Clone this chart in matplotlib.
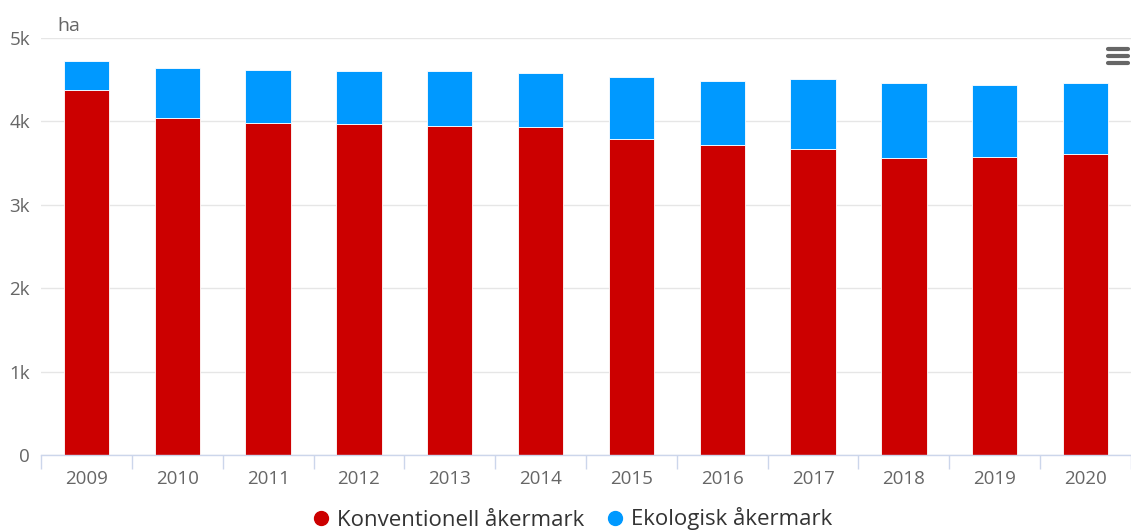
import matplotlib.pyplot as plt
import numpy as np
from matplotlib.lines import Line2D

plt.rcParams['font.family'] = ['Open Sans', 'DejaVu Sans']

years = ['2009', '2010', '2011', '2012', '2013', '2014',
         '2015', '2016', '2017', '2018', '2019', '2020']
# hectares, conventional and organic arable land
konventionell = [4380, 4040, 3980, 3970, 3950, 3930, 3790, 3720, 3670, 3560, 3570, 3610]
totalt = [4730, 4640, 4620, 4600, 4600, 4580, 4530, 4490, 4510, 4460, 4440, 4460]
ekologisk = [t - k for t, k in zip(totalt, konventionell)]

red = '#cc0000'
blue = '#0099ff'
grid = '#e6e6e6'
axis_col = '#ccd6eb'
label_col = '#666666'

fig = plt.figure(figsize=(11.31, 5.32), dpi=100)
ax = fig.add_axes([41 / 1131, (532 - 455) / 532, 1090 / 1131, (455 - 38) / 532])

x = np.arange(len(years))
ax.bar(x, konventionell, width=0.5, color=red, edgecolor='white', linewidth=0.6, zorder=3)
ax.bar(x, ekologisk, bottom=konventionell, width=0.5, color=blue,
       edgecolor='white', linewidth=0.6, zorder=3)

ax.set_xlim(-0.5, len(years) - 0.5)
ax.set_ylim(0, 5000)
ax.set_yticks([0, 1000, 2000, 3000, 4000, 5000])
ax.set_yticklabels(['0', '1k', '2k', '3k', '4k', '5k'])
ax.yaxis.grid(True, color=grid, linewidth=1, zorder=0)
ax.tick_params(axis='y', length=0, pad=8, labelsize=13.5, labelcolor=label_col)

ax.set_xticks(x)
ax.set_xticklabels(years)
ax.set_xticks(np.arange(len(years) + 1) - 0.5, minor=True)
ax.tick_params(axis='x', which='major', length=0, pad=11, labelsize=13.5, labelcolor=label_col)
ax.tick_params(axis='x', which='minor', length=10, width=1, color=axis_col)

for side in ['top', 'right', 'left']:
    ax.spines[side].set_visible(False)
ax.spines['bottom'].set_color(axis_col)
ax.spines['bottom'].set_linewidth(1)
ax.spines['bottom'].set_zorder(4)

fig.text(57 / 1131, 1 - 26 / 532, 'ha', fontsize=14, color=label_col, va='center', ha='left')

# menu icon, top right
for yy in [49, 56, 63]:
    fig.add_artist(Line2D([1108 / 1131, 1128 / 1131], [1 - yy / 532, 1 - yy / 532],
                          color='#666666', linewidth=3, solid_capstyle='round'))

handles = [Line2D([], [], marker='o', linestyle='', color=red, markersize=10),
           Line2D([], [], marker='o', linestyle='', color=blue, markersize=10)]
fig.legend(handles, ['Konventionell åkermark', 'Ekologisk åkermark'],
           loc='center', bbox_to_anchor=(0.5, 1 - 519 / 532), ncol=2, frameon=False,
           fontsize=16, handletextpad=-0.3, columnspacing=0.4, labelcolor='#333333')

fig.savefig('out.png', dpi=100)
